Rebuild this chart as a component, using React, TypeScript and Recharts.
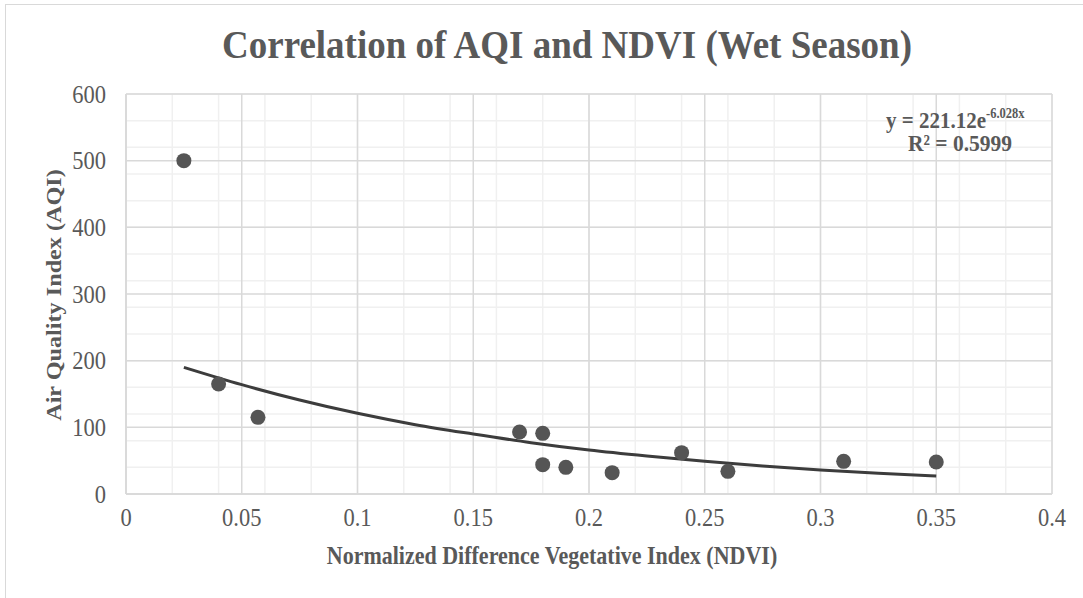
import React from "react";
import {
  CartesianGrid,
  ComposedChart,
  Customized,
  Line,
  Scatter,
  XAxis,
  YAxis
} from "recharts";

// NDVI vs AQI readings, wet season
const ndvi = [0.025, 0.04, 0.057, 0.17, 0.18, 0.18, 0.19, 0.21, 0.24, 0.26, 0.31, 0.35];
const aqi = [500, 165, 115, 93, 91, 44, 40, 32, 62, 34, 49, 48];

// exponential trendline as drawn by the spreadsheet
const trendX = [0.025, 0.05, 0.075, 0.1, 0.125, 0.15, 0.175, 0.2, 0.225, 0.25, 0.275, 0.3, 0.325, 0.35];
const trendY = [190, 164, 141, 121, 104, 90, 77, 66, 57, 49, 42, 36, 31, 27];

const xTicks = [0, 0.05, 0.1, 0.15, 0.2, 0.25, 0.3, 0.35, 0.4];
const yTicks = [0, 100, 200, 300, 400, 500, 600];

const points = ndvi.map((x, i) => ({ x, y: aqi[i] }));
const trend = trendX.map((x, i) => ({ x, y: trendY[i] }));

// minor gridlines: every 0.01 on x, every 20 on y
const minorX = Array.from({ length: 41 }, (_, i) => +(i * 0.01).toFixed(2));
const minorY = Array.from({ length: 31 }, (_, i) => i * 20);

const font = "'Liberation Serif', 'Times New Roman', serif";
const textColor = "#595959";
const stretch = 1.1; // glyphs in the reference are a bit taller than wide

const XTick = (p: any) => (
  <text
    transform={`translate(${p.x},${p.y}) scale(1,${stretch})`}
    dy="0.71em"
    textAnchor="middle"
    fill={textColor}
    fontSize={22.5}
    fontFamily={font}
  >
    {p.payload.value}
  </text>
);

const YTick = (p: any) => (
  <text
    transform={`translate(${p.x},${p.y}) scale(1,${stretch})`}
    dy="0.35em"
    textAnchor="end"
    fill={textColor}
    fontSize={22.5}
    fontFamily={font}
  >
    {p.payload.value}
  </text>
);

const Equation = () => (
  <g fontFamily={font} fontWeight="bold" fill={textColor}>
    <text transform={`translate(886,128) scale(1,${stretch})`} fontSize={21}>
      y = 221.12e
      <tspan fontSize={12.5} dy={-9}>-6.028x</tspan>
    </text>
    <text transform={`translate(908,151) scale(1,${stretch})`} fontSize={21.5}>
      R² = 0.5999
    </text>
  </g>
);

export default function App() {
  return (
    <div style={{ position: "fixed", left: 0, top: 0, width: 1083, height: 598, background: "#fff", fontFamily: font, overflow: "hidden" }}>
      <div
        style={{
          position: "absolute",
          left: 5,
          top: 4,
          width: 1100,
          height: 620,
          borderLeft: "1px solid #d9d9d9",
          borderTop: "1px solid #d9d9d9"
        }}
      />
      <div
        style={{
          position: "absolute",
          left: 0,
          width: 1134,
          top: 45,
          textAlign: "center",
          fontSize: 37,
          lineHeight: "40px",
          fontWeight: "bold",
          color: textColor,
          transform: `translateY(-50%) scale(1,${stretch})`
        }}
      >
        Correlation of AQI and NDVI (Wet Season)
      </div>
      <div style={{ position: "absolute", left: 0, top: 0 }}>
        <ComposedChart width={1083} height={598} margin={{ top: 94, right: 31, bottom: 44, left: 66 }}>
          <CartesianGrid stroke="#f0f0f0" strokeWidth={1.5} verticalValues={minorX} horizontalValues={minorY} />
          <CartesianGrid stroke="#d9d9d9" strokeWidth={1.5} verticalValues={xTicks} horizontalValues={yTicks} />
          <XAxis
            dataKey="x"
            type="number"
            domain={[0, 0.4]}
            ticks={xTicks}
            height={60}
            tick={<XTick />}
            tickLine={false}
            axisLine={{ stroke: "#d9d9d9", strokeWidth: 1.5 }}
            tickMargin={8}
            allowDuplicatedCategory={false}
          />
          <YAxis
            dataKey="y"
            type="number"
            domain={[0, 600]}
            ticks={yTicks}
            width={60}
            tick={<YTick />}
            tickLine={false}
            axisLine={{ stroke: "#d9d9d9", strokeWidth: 1.5 }}
            tickMargin={14}
          />
          <Scatter
            data={points}
            dataKey="y"
            fill="#555555"
            isAnimationActive={false}
            shape={(p: any) => <circle cx={p.cx} cy={p.cy} r={7.5} fill="#555555" />}
          />
          <Line data={trend} dataKey="y" type="monotone" stroke="#3c3c3c" strokeWidth={3} dot={false} isAnimationActive={false} />
          <Customized component={Equation} />
        </ComposedChart>
      </div>
      <div
        style={{
          position: "absolute",
          left: 0,
          width: 1104,
          top: 556,
          textAlign: "center",
          fontSize: 22,
          lineHeight: "26px",
          fontWeight: "bold",
          color: textColor,
          transform: `translateY(-50%) scale(1,${stretch})`
        }}
      >
        Normalized Difference Vegetative Index (NDVI)
      </div>
      <div
        style={{
          position: "absolute",
          left: 54,
          top: 295,
          transform: `translate(-50%, -50%) scale(1,${stretch}) rotate(-90deg)`,
          whiteSpace: "nowrap",
          fontSize: 22,
          lineHeight: "26px",
          fontWeight: "bold",
          color: textColor
        }}
      >
        Air Quality Index (AQI)
      </div>
    </div>
  );
}
